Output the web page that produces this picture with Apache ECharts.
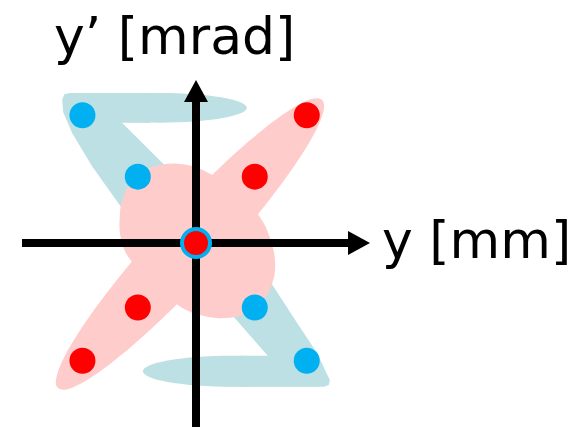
<!DOCTYPE html>
<html>
<head>
<meta charset="utf-8">
<script src="https://cdn.jsdelivr.net/npm/echarts@6/dist/echarts.min.js"></script>
<style>
    html, body { margin: 0; padding: 0; background: #fff; }
    #chart { width: 585px; height: 427px; }
</style>
</head>
<body>
<div id="chart"></div>
<script>
// particles: [y (mm), y' (mrad)]
const bluePoints = [[-2.01, 2.06], [-1.03, 1.07], [1.04, -1.04], [1.96, -1.9]]
const redPoints = [[1.96, 2.06], [1.04, 1.07], [-1.03, -1.04], [-2.01, -1.9]]
const centerPoint = [[0, 0]]

// phase space areas, in the same units
// ellipses: [cy, cy', ry, ry']
const blueEllipses = [[-0.64, 2.18, 1.54, 0.24], [0.64, -2.07, 1.58, 0.25]]
const blueArmTop = [
    [-2.23, 2.42], [-0.81, 2.42], [-0.81, 1.94], [-1.31, 1.94], [-0.11, 0.85],
    [-0.64, 0.13], [-1.31, 0.56], [-1.84, 1.24], [-2.19, 1.77], [-2.35, 2.11],
    [-2.37, 2.31], [-2.33, 2.40],
]
const blueArmBottom = [
    [2.26, -2.32], [0.78, -2.32], [0.78, -1.82], [1.27, -1.82], [0.25, -0.76],
    [0.96, -0.11], [1.27, -0.56], [1.79, -1.29], [2.14, -1.77], [2.30, -2.08],
    [2.37, -2.21], [2.35, -2.29],
]
// long tilted ellipse: tip, other tip, half width
const pinkBand = [[2.23, 2.31, -2.44, -2.34, 0.57]]
const pinkCore = [
    [-0.76, 1.23], [-0.23, 1.27], [0.28, 1.10], [0.78, 0.77], [1.13, 0.42],
    [1.31, 0.08], [1.40, -0.32], [1.35, -0.65], [1.19, -0.92], [0.90, -1.13],
    [0.55, -1.21], [0.07, -1.16], [-0.32, -1.00], [-0.81, -0.60], [-1.13, -0.31],
    [-1.31, 0.00], [-1.35, 0.42], [-1.26, 0.81], [-1.04, 1.06],
]

const xLabel = 'y [mm]'
const yLabel = 'y\u2019 [mrad]'

const BLUE = '#00B0F0'
const RED = '#FF0000'
const BLUE_AREA = '#BCE0E3'
const PINK_AREA = '#FFCCCC'
const FONT = '52px "DejaVu Sans"'

const chart = echarts.init(document.getElementById('chart'))

const ellipseItem = color => (params, api) => {
    const c = api.coord([api.value(0), api.value(1)])
    const s = api.size([api.value(2), api.value(3)])
    return {
        type: 'ellipse',
        shape: { cx: c[0], cy: c[1], rx: s[0], ry: s[1] },
        style: { fill: color },
    }
}

const outlineItem = (outline, color, smooth) => (params, api) => ({
    type: 'polygon',
    shape: { points: outline.map(p => api.coord(p)), smooth: smooth || 0 },
    style: { fill: color },
})

const bandItem = color => (params, api) => {
    const a = api.coord([api.value(0), api.value(1)])
    const b = api.coord([api.value(2), api.value(3)])
    const half = api.size([api.value(4), 0])[0]
    const dx = a[0] - b[0]
    const dy = a[1] - b[1]
    return {
        type: 'ellipse',
        x: (a[0] + b[0]) / 2,
        y: (a[1] + b[1]) / 2,
        rotation: -Math.atan2(dy, dx),
        shape: { cx: 0, cy: 0, rx: Math.sqrt(dx * dx + dy * dy) / 2, ry: half },
        style: { fill: color },
    }
}

const axisCommon = {
    type: 'value',
    z: 3,
    axisTick: { show: false },
    axisLabel: { show: false },
    splitLine: { show: false },
    axisLine: {
        onZero: true,
        symbol: ['none', 'triangle'],
        symbolSize: [24, 22],
        lineStyle: { color: '#000', width: 8, cap: 'butt' },
    },
}

chart.setOption({
    animation: false,
    grid: { left: 22, top: 91, width: 337, bottom: 0 },
    xAxis: Object.assign({ min: -3.08, max: 2.885 }, axisCommon),
    yAxis: Object.assign({ min: -2.968, max: 2.452 }, axisCommon),
    graphic: [
        {
            type: 'text',
            x: 54,
            y: 40,
            z: 10,
            style: { text: yLabel, font: FONT, fill: '#000', verticalAlign: 'middle' },
        },
        {
            type: 'text',
            x: 382,
            y: 244,
            z: 10,
            style: { text: xLabel, font: FONT, fill: '#000', verticalAlign: 'middle' },
        },
    ],
    series: [
        {
            type: 'custom',
            z: 1,
            silent: true,
            encode: { x: 0, y: 1 },
            data: blueEllipses,
            renderItem: ellipseItem(BLUE_AREA),
        },
        {
            type: 'custom',
            z: 1,
            silent: true,
            data: [[0, 0]],
            renderItem: outlineItem(blueArmTop, BLUE_AREA),
        },
        {
            type: 'custom',
            z: 1,
            silent: true,
            data: [[0, 0]],
            renderItem: outlineItem(blueArmBottom, BLUE_AREA),
        },
        {
            type: 'custom',
            z: 1,
            silent: true,
            data: pinkBand,
            renderItem: bandItem(PINK_AREA),
        },
        {
            type: 'custom',
            z: 1,
            silent: true,
            data: [[0, 0]],
            renderItem: outlineItem(pinkCore, PINK_AREA, 0.4),
        },
        {
            type: 'scatter',
            z: 5,
            symbolSize: 26,
            itemStyle: { color: BLUE, opacity: 1 },
            data: bluePoints,
        },
        {
            type: 'scatter',
            z: 5,
            symbolSize: 26,
            itemStyle: { color: RED, opacity: 1 },
            data: redPoints,
        },
        {
            type: 'scatter',
            z: 5,
            symbolSize: 28,
            itemStyle: { color: RED, borderColor: BLUE, borderWidth: 4, opacity: 1 },
            data: centerPoint,
        },
    ],
})
</script>
</body>
</html>
